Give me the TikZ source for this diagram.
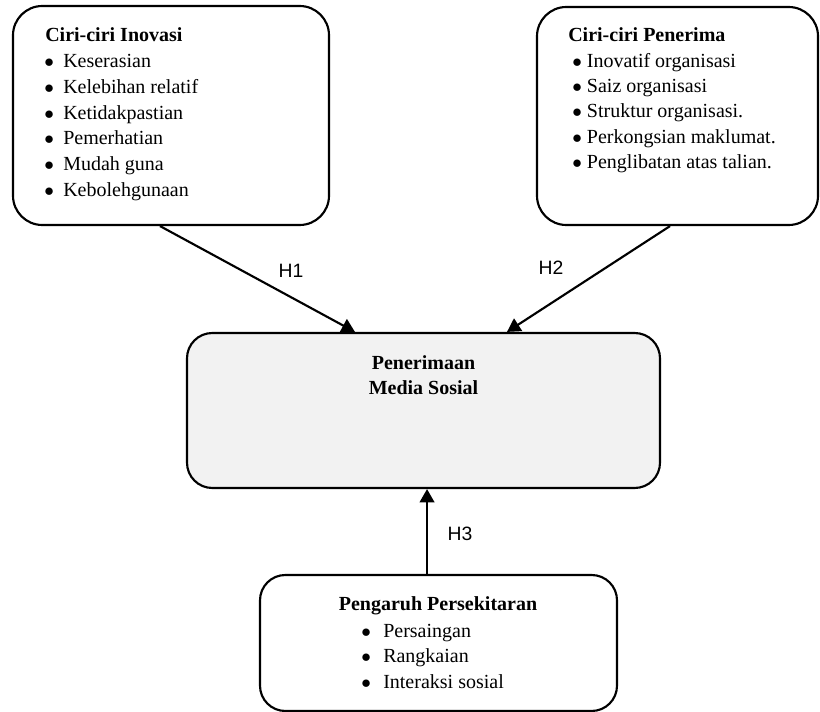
\documentclass[tikz,border=0pt]{standalone}
\usepackage{fontspec}
\setmainfont{Liberation Serif}
\newfontfamily\hfont{Liberation Sans}
\usetikzlibrary{arrows.meta}
\definecolor{mediafill}{HTML}{F2F2F2}

\newcommand{\itm}[2][14.25pt]{\makebox[#1][l]{$\bullet$}#2}

\begin{document}
\begin{tikzpicture}[x=0.75pt,y=-0.75pt,
	box/.style={draw,line width=1.6pt,rounded corners=22pt,inner sep=0pt},
	txt/.style={font=\fontsize{15}{19}\selectfont,inner sep=0pt},
	hyp/.style={font=\hfont\fontsize{14.5}{17}\selectfont,inner sep=0pt},
	link/.style={line width=1.6pt,-{Triangle[width=11pt,length=10pt]}}]
	\useasboundingbox (0,0) rectangle (820,712);
	% kotak
	\node[box,minimum width=237pt,minimum height=164.25pt] (inov) at (171,115.5) {};
	\node[box,minimum width=210.75pt,minimum height=163.5pt] (terima) at (677.5,116) {};
	\node[box,rounded corners=19pt,fill=mediafill,minimum width=354.75pt,minimum height=116.25pt] (media) at (423.5,410.5) {};
	\node[box,rounded corners=19pt,minimum width=267.75pt,minimum height=102pt] (sekitar) at (438.5,643) {};
	% teks
	\node[txt,anchor=base west] (inovhead) at (45,42) {\textbf{Ciri-ciri Inovasi}};
	\foreach \t [count=\i] in {Keserasian,Kelebihan relatif,Ketidakpastian,Pemerhatian,Mudah guna,Kebolehgunaan}
		{\node[txt,anchor=base west] (inov-\i) at (44,42+25.7*\i) {\itm{\t}};};
	\node[txt,anchor=base west] (terimahead) at (568,42) {\textbf{Ciri-ciri Penerima}};
	\foreach \t [count=\i] in {Inovatif organisasi,Saiz organisasi,Struktur organisasi.,Perkongsian maklumat.,Penglibatan atas talian.}
		{\node[txt,anchor=base west] (terima-\i) at (572,42+25.3*\i) {\itm[11pt]{\t}};};
	\node[txt,anchor=base] (mediahead1) at (423.5,370) {\textbf{Penerimaan}};
	\node[txt,anchor=base] (mediahead2) at (423.5,395) {\textbf{Media Sosial}};
	\node[txt,anchor=base] (sekitarhead) at (438,610) {\textbf{Pengaruh Persekitaran}};
	\foreach \t [count=\i] in {Persaingan,Rangkaian,Interaksi sosial}
		{\node[txt,anchor=base west] (sekitar-\i) at (361,611.5+25.5*\i) {\itm[16.5pt]{\t}};};
	% hipotesis
	\draw[link] ([xshift=-8.25pt]inov.south) -- ([xshift=-51.4pt]media.north);
	\draw[link] ([xshift=-5.6pt]terima.south) -- ([xshift=62.6pt]media.north);
	\draw[link] ([xshift=-8.6pt]sekitar.north) -- ([xshift=-8.6pt]sekitar.north |- media.south);
	\node[hyp] (h1) at (291,270.5) {H1};
	\node[hyp] (h2) at (551,267.5) {H2};
	\node[hyp] (h3) at (460,534) {H3};
\end{tikzpicture}
\end{document}
